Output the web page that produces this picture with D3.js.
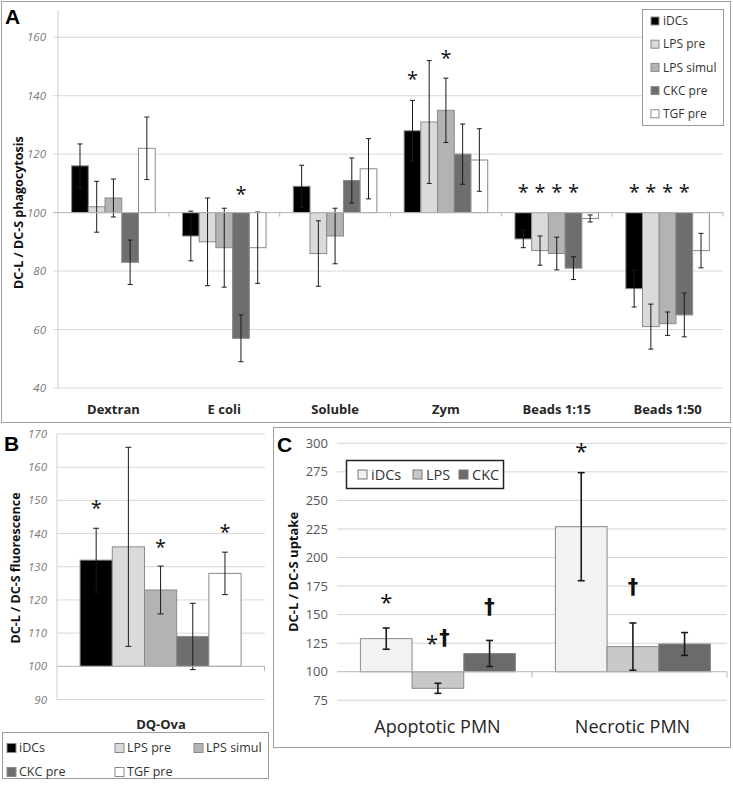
<!DOCTYPE html>
<html>
<head>
<meta charset="utf-8">
<script src="https://cdn.jsdelivr.net/npm/d3@7"></script>
<style>
  body { margin: 0; background: #fff; }
  svg { font-family: "Open Sans", sans-serif; }
</style>
</head>
<body>
<svg width="733" height="787"></svg>
<script>
// ---- panel A data ----
const seriesA = ["iDCs", "LPS pre", "LPS simul", "CKC pre", "TGF pre"];
const catsA = ["Dextran", "E coli", "Soluble", "Zym", "Beads 1:15", "Beads 1:50"];
const iDCsA      = [116, 92, 109, 128, 91, 74];
const lpsPreA    = [102, 90, 86, 131, 87, 61];
const lpsSimulA  = [105, 88, 92, 135, 86, 62];
const ckcPreA    = [83, 57, 111, 120, 81, 65];
const tgfPreA    = [122, 88, 115, 118, 98, 87];
const iDCsErrA     = [7.5, 8.5, 7.2, 10.4, 3, 6.3];
const lpsPreErrA   = [8.7, 15, 11.2, 21, 5, 7.7];
const lpsSimulErrA = [6.5, 13.5, 9.5, 11, 5.6, 4];
const ckcPreErrA   = [7.6, 8, 7.7, 10.3, 3.9, 7.5];
const tgfPreErrA   = [10.7, 12.2, 10.3, 10.7, 1.2, 5.9];
const ticksA = [40, 60, 80, 100, 120, 140, 160];
// significance marks: category, series, level (in axis units)
const starsA = [
  ["E coli", "CKC pre", 108], ["Zym", "iDCs", 147.5], ["Zym", "LPS simul", 154.7],
  ["Beads 1:15", "iDCs", 108.6], ["Beads 1:15", "LPS pre", 108.6],
  ["Beads 1:15", "LPS simul", 108.6], ["Beads 1:15", "CKC pre", 108.6],
  ["Beads 1:50", "iDCs", 108.6], ["Beads 1:50", "LPS pre", 108.6],
  ["Beads 1:50", "LPS simul", 108.6], ["Beads 1:50", "CKC pre", 108.6]
];

// ---- panel B data ----
const catsB = ["DQ-Ova"];
const valsB = [132, 136, 123, 109, 128];
const errB  = [9.6, 30, 7.2, 10, 6.4];
const ticksB = [90, 100, 110, 120, 130, 140, 150, 160, 170];
const starsB = [["iDCs", 149.3], ["LPS simul", 137.6], ["TGF pre", 142]];

// ---- panel C data ----
const seriesC = ["iDCs", "LPS", "CKC"];
const catsC = ["Apoptotic PMN", "Necrotic PMN"];
const iDCsC = [129, 227];
const lpsC  = [85.5, 122];
const ckcC  = [116, 124.3];
const iDCsErrC = [9.3, 47.3];
const lpsErrC  = [4.4, 20.7];
const ckcErrC  = [11.4, 10];
const ticksC = [75, 100, 125, 150, 175, 200, 225, 250, 275, 300];
const marksC = [
  ["Apoptotic PMN", "iDCs", "*", 166.7], ["Apoptotic PMN", "LPS", "*†", 129.5],
  ["Apoptotic PMN", "CKC", "†", 157], ["Necrotic PMN", "iDCs", "*", 298.5],
  ["Necrotic PMN", "LPS", "†", 174.4]
];

const colorA = d3.scaleOrdinal(seriesA, ["#000000", "#dadada", "#b3b3b3", "#6e6e6e", "#ffffff"]);
const colorC = d3.scaleOrdinal(seriesC, ["#f2f2f2", "#c8c8c8", "#6b6b6b"]);

const svg = d3.select("svg");

// panel frames
svg.append("rect").attr("x", 1.5).attr("y", 1.5).attr("width", 729).attr("height", 421)
  .attr("fill", "none").attr("stroke", "#a0a0a0");
svg.append("rect").attr("x", 273.5).attr("y", 427.5).attr("width", 457).attr("height", 320)
  .attr("fill", "none").attr("stroke", "#a0a0a0");

// generic grouped bar drawing around a baseline of 100
function drawBars(g, cats, series, rows, errs, x0, x1, y, color, errStyle) {
  const cells = [];
  cats.forEach((c, i) => series.forEach((s, j) => {
    cells.push({ c, s, v: rows[j][i], e: errs[j][i] });
  }));
  g.selectAll("rect.bar").data(cells).join("rect")
    .attr("class", "bar")
    .attr("x", d => x0(d.c) + x1(d.s))
    .attr("width", x1.bandwidth())
    .attr("y", d => y(Math.max(d.v, 100)))
    .attr("height", d => Math.abs(y(d.v) - y(100)))
    .attr("fill", d => color(d.s))
    .attr("stroke", "#8a8a8a").attr("stroke-width", 1);

  const eb = g.selectAll("g.err").data(cells).join("g")
    .attr("class", "err")
    .attr("transform", d => `translate(${x0(d.c) + x1(d.s) + x1.bandwidth() / 2},0)`)
    .attr("stroke", "#1a1a1a").attr("stroke-width", errStyle.w);
  eb.append("line").attr("y1", d => y(d.v - d.e)).attr("y2", d => y(d.v + d.e));
  eb.append("line").attr("x1", -errStyle.cap).attr("x2", errStyle.cap)
    .attr("y1", d => y(d.v + d.e)).attr("y2", d => y(d.v + d.e));
  eb.append("line").attr("x1", -errStyle.cap).attr("x2", errStyle.cap)
    .attr("y1", d => y(d.v - d.e)).attr("y2", d => y(d.v - d.e));
}

// "*" and "†" marks; the dagger is drawn heavier and larger, like the original
function star(g, x, y, txt, size) {
  const t = g.append("text").attr("x", x).attr("y", y).attr("text-anchor", "middle")
    .attr("dominant-baseline", "central").attr("fill", "#111");
  txt.split("").forEach(ch => {
    const ts = t.append("tspan").text(ch);
    if (ch === "†") {
      ts.attr("font-family", "DejaVu Sans, sans-serif").attr("font-weight", "bold")
        .attr("font-size", size * 0.95);
    } else {
      ts.attr("font-size", size).attr("dy", txt.length > 1 ? 4 : 0);
    }
  });
  if (txt.length > 1) t.selectAll("tspan").filter((d, i) => i === 1).attr("dy", -4).attr("dx", 1);
}

// ================= PANEL A =================
{
  const g = svg.append("g");
  const y = d3.scaleLinear().domain([40, 170]).range([388, 8]);
  const x0 = d3.scaleBand().domain(catsA).range([58, 723]);
  const bw = x0.bandwidth();
  const x1 = d3.scaleBand().domain(seriesA).range([bw * 0.123, bw * 0.877]);

  g.selectAll("line.grid").data(ticksA.filter(t => t !== 100)).join("line")
    .attr("x1", 53).attr("x2", 723).attr("y1", y).attr("y2", y)
    .attr("stroke", "#d9d9d9");
  g.append("line").attr("x1", 58).attr("x2", 58).attr("y1", 10).attr("y2", 388).attr("stroke", "#d0d0d0");
  g.selectAll("text.tick").data(ticksA).join("text")
    .attr("x", 46).attr("y", y).attr("dy", "0.35em").attr("text-anchor", "end")
    .attr("font-size", 11.5).attr("font-style", "italic").attr("fill", "#7a7a7a").text(d => d);

  drawBars(g, catsA, seriesA, [iDCsA, lpsPreA, lpsSimulA, ckcPreA, tgfPreA],
    [iDCsErrA, lpsPreErrA, lpsSimulErrA, ckcPreErrA, tgfPreErrA], x0, x1, y, colorA, { w: 1, cap: 2.5 });

  // category axis at 100
  g.append("line").attr("x1", 53).attr("x2", 723).attr("y1", y(100)).attr("y2", y(100)).attr("stroke", "#b5b5b5");
  g.selectAll("line.ctick").data(catsA).join("line")
    .attr("x1", d => x0(d) + bw).attr("x2", d => x0(d) + bw)
    .attr("y1", y(100)).attr("y2", y(100) + 4).attr("stroke", "#b5b5b5");
  g.selectAll("text.cat").data(catsA).join("text")
    .attr("x", d => x0(d) + bw / 2).attr("y", 409).attr("dy", "0.35em").attr("text-anchor", "middle")
    .attr("font-size", 13).attr("font-weight", "bold").attr("fill", "#262626").text(d => d);

  starsA.forEach(([c, s, lvl]) => star(g, x0(c) + x1(s) + x1.bandwidth() / 2, y(lvl) + 4, "*", 20));

  g.append("text").attr("transform", `translate(19,${y(100)}) rotate(-90)`)
    .attr("text-anchor", "middle").attr("dy", "0.35em").attr("font-size", 12.5).attr("font-weight", "bold")
    .attr("fill", "#111").text("DC-L / DC-S phagocytosis");
  g.append("text").attr("x", 5).attr("y", 24).attr("font-size", 21).attr("font-weight", "bold")
    .attr("font-family", "Liberation Sans, Arial, sans-serif").text("A");

  // legend
  const lg = g.append("g").attr("transform", "translate(642,9)");
  lg.append("rect").attr("x", 0.5).attr("y", 0.5).attr("width", 81).attr("height", 116)
    .attr("fill", "#fff").attr("stroke", "#9a9a9a");
  const it = lg.selectAll("g.it").data(seriesA).join("g")
    .attr("transform", (d, i) => `translate(9,${12 + i * 23.2})`);
  it.append("rect").attr("x", 0).attr("y", -4).attr("width", 8).attr("height", 8)
    .attr("fill", d => colorA(d)).attr("stroke", "#8a8a8a");
  it.append("text").attr("x", 12).attr("dy", "0.35em").attr("font-size", 12).attr("fill", "#333").text(d => d);
}

// ================= PANEL B =================
{
  const g = svg.append("g");
  const y = d3.scaleLinear().domain([90, 170]).range([699.5, 434]);
  const x0 = d3.scaleBand().domain(catsB).range([57, 265]);
  const bw = x0.bandwidth();
  const x1 = d3.scaleBand().domain(seriesA).range([bw * 0.111, bw * 0.885]);

  g.selectAll("line.grid").data(ticksB.filter(t => t !== 100)).join("line")
    .attr("x1", 57).attr("x2", 265).attr("y1", y).attr("y2", y).attr("stroke", "#d9d9d9");
  g.append("line").attr("x1", 57).attr("x2", 57).attr("y1", 434).attr("y2", 700).attr("stroke", "#d0d0d0");
  g.selectAll("text.tick").data(ticksB).join("text")
    .attr("x", 47).attr("y", y).attr("dy", "0.35em").attr("text-anchor", "end")
    .attr("font-size", 11.5).attr("font-style", "italic").attr("fill", "#7a7a7a").text(d => d);

  drawBars(g, catsB, seriesA, valsB.map(v => [v]), errB.map(e => [e]), x0, x1, y, colorA, { w: 1, cap: 3 });

  g.append("line").attr("x1", 57).attr("x2", 265).attr("y1", y(100)).attr("y2", y(100)).attr("stroke", "#b5b5b5");
  g.append("line").attr("x1", 264.5).attr("x2", 264.5).attr("y1", y(100)).attr("y2", y(100) + 5).attr("stroke", "#b5b5b5");
  g.append("text").attr("x", x0("DQ-Ova") + bw / 2).attr("y", 724).attr("dy", "0.35em").attr("text-anchor", "middle")
    .attr("font-size", 13).attr("font-weight", "bold").attr("fill", "#262626").text("DQ-Ova");

  starsB.forEach(([s, lvl]) => star(g, x0("DQ-Ova") + x1(s) + x1.bandwidth() / 2, y(lvl) + 4, "*", 20));

  g.append("text").attr("transform", `translate(16,568) rotate(-90)`)
    .attr("text-anchor", "middle").attr("dy", "0.35em").attr("font-size", 12.5).attr("font-weight", "bold")
    .attr("fill", "#111").text("DC-L / DC-S fluorescence");
  g.append("text").attr("x", 4).attr("y", 451).attr("font-size", 21).attr("font-weight", "bold")
    .attr("font-family", "Liberation Sans, Arial, sans-serif").text("B");

  // legend, two rows
  const lg = g.append("g").attr("transform", "translate(2,732)");
  lg.append("rect").attr("x", 0.5).attr("y", 0.5).attr("width", 266).attr("height", 46)
    .attr("fill", "#fff").attr("stroke", "#9a9a9a");
  const it = lg.selectAll("g.it").data(seriesA).join("g")
    .attr("transform", (d, i) => `translate(${[5, 113, 192][i % 3]},${i < 3 ? 16 : 40})`);
  it.append("rect").attr("x", 0).attr("y", -4.5).attr("width", 9).attr("height", 9)
    .attr("fill", d => colorA(d)).attr("stroke", "#8a8a8a");
  it.append("text").attr("x", 12).attr("dy", "0.35em").attr("font-size", 12.5).attr("fill", "#333").text(d => d);
}

// ================= PANEL C =================
{
  const g = svg.append("g");
  const y = d3.scaleLinear().domain([75, 300]).range([700.3, 443.3]);
  const x0 = d3.scaleBand().domain(catsC).range([337, 727]);
  const bw = x0.bandwidth();
  const x1 = d3.scaleBand().domain(seriesC).range([bw * 0.12, bw * 0.915]);

  g.selectAll("line.grid").data(ticksC.filter(t => t !== 100)).join("line")
    .attr("x1", 337).attr("x2", 727).attr("y1", y).attr("y2", y).attr("stroke", "#d4d4d4");
  g.selectAll("text.tick").data(ticksC).join("text")
    .attr("x", 328).attr("y", y).attr("dy", "0.35em").attr("text-anchor", "end")
    .attr("font-size", 13).attr("fill", "#555").text(d => d);

  drawBars(g, catsC, seriesC, [iDCsC, lpsC, ckcC], [iDCsErrC, lpsErrC, ckcErrC], x0, x1, y, colorC, { w: 1.6, cap: 3.5 });

  g.append("line").attr("x1", 337).attr("x2", 727).attr("y1", y(100)).attr("y2", y(100)).attr("stroke", "#b5b5b5");
  g.selectAll("line.ctick").data(catsC).join("line")
    .attr("x1", d => x0(d) + bw).attr("x2", d => x0(d) + bw)
    .attr("y1", y(100)).attr("y2", y(100) + 6).attr("stroke", "#b5b5b5");
  g.selectAll("text.cat").data(catsC).join("text")
    .attr("x", d => x0(d) + bw / 2 + 3).attr("y", 727).attr("dy", "0.35em").attr("text-anchor", "middle")
    .attr("font-size", 18).attr("fill", "#262626").text(d => d);

  marksC.forEach(([c, s, t, lvl]) => star(g, x0(c) + x1(s) + x1.bandwidth() / 2, y(lvl) + (t === "*" ? 5 : 0), t, 22));

  g.append("text").attr("transform", `translate(293,572) rotate(-90)`)
    .attr("text-anchor", "middle").attr("dy", "0.35em").attr("font-size", 13).attr("font-weight", "bold")
    .attr("fill", "#111").text("DC-L / DC-S uptake");
  g.append("text").attr("x", 277).attr("y", 452).attr("font-size", 21).attr("font-weight", "bold")
    .attr("font-family", "Liberation Sans, Arial, sans-serif").text("C");

  const lg = g.append("g").attr("transform", "translate(346,460)");
  lg.append("rect").attr("x", 0.5).attr("y", 0.5).attr("width", 157).attr("height", 28)
    .attr("fill", "#fff").attr("stroke", "#222").attr("stroke-width", 1.5);
  const it = lg.selectAll("g.it").data(seriesC).join("g")
    .attr("transform", (d, i) => `translate(${[12, 67, 113][i]},14.5)`);
  it.append("rect").attr("x", 0).attr("y", -4.5).attr("width", 9).attr("height", 9)
    .attr("fill", d => colorC(d)).attr("stroke", "#777");
  it.append("text").attr("x", 13).attr("dy", "0.35em").attr("font-size", 14.5).attr("fill", "#333").text(d => d);
}
</script>
</body>
</html>
